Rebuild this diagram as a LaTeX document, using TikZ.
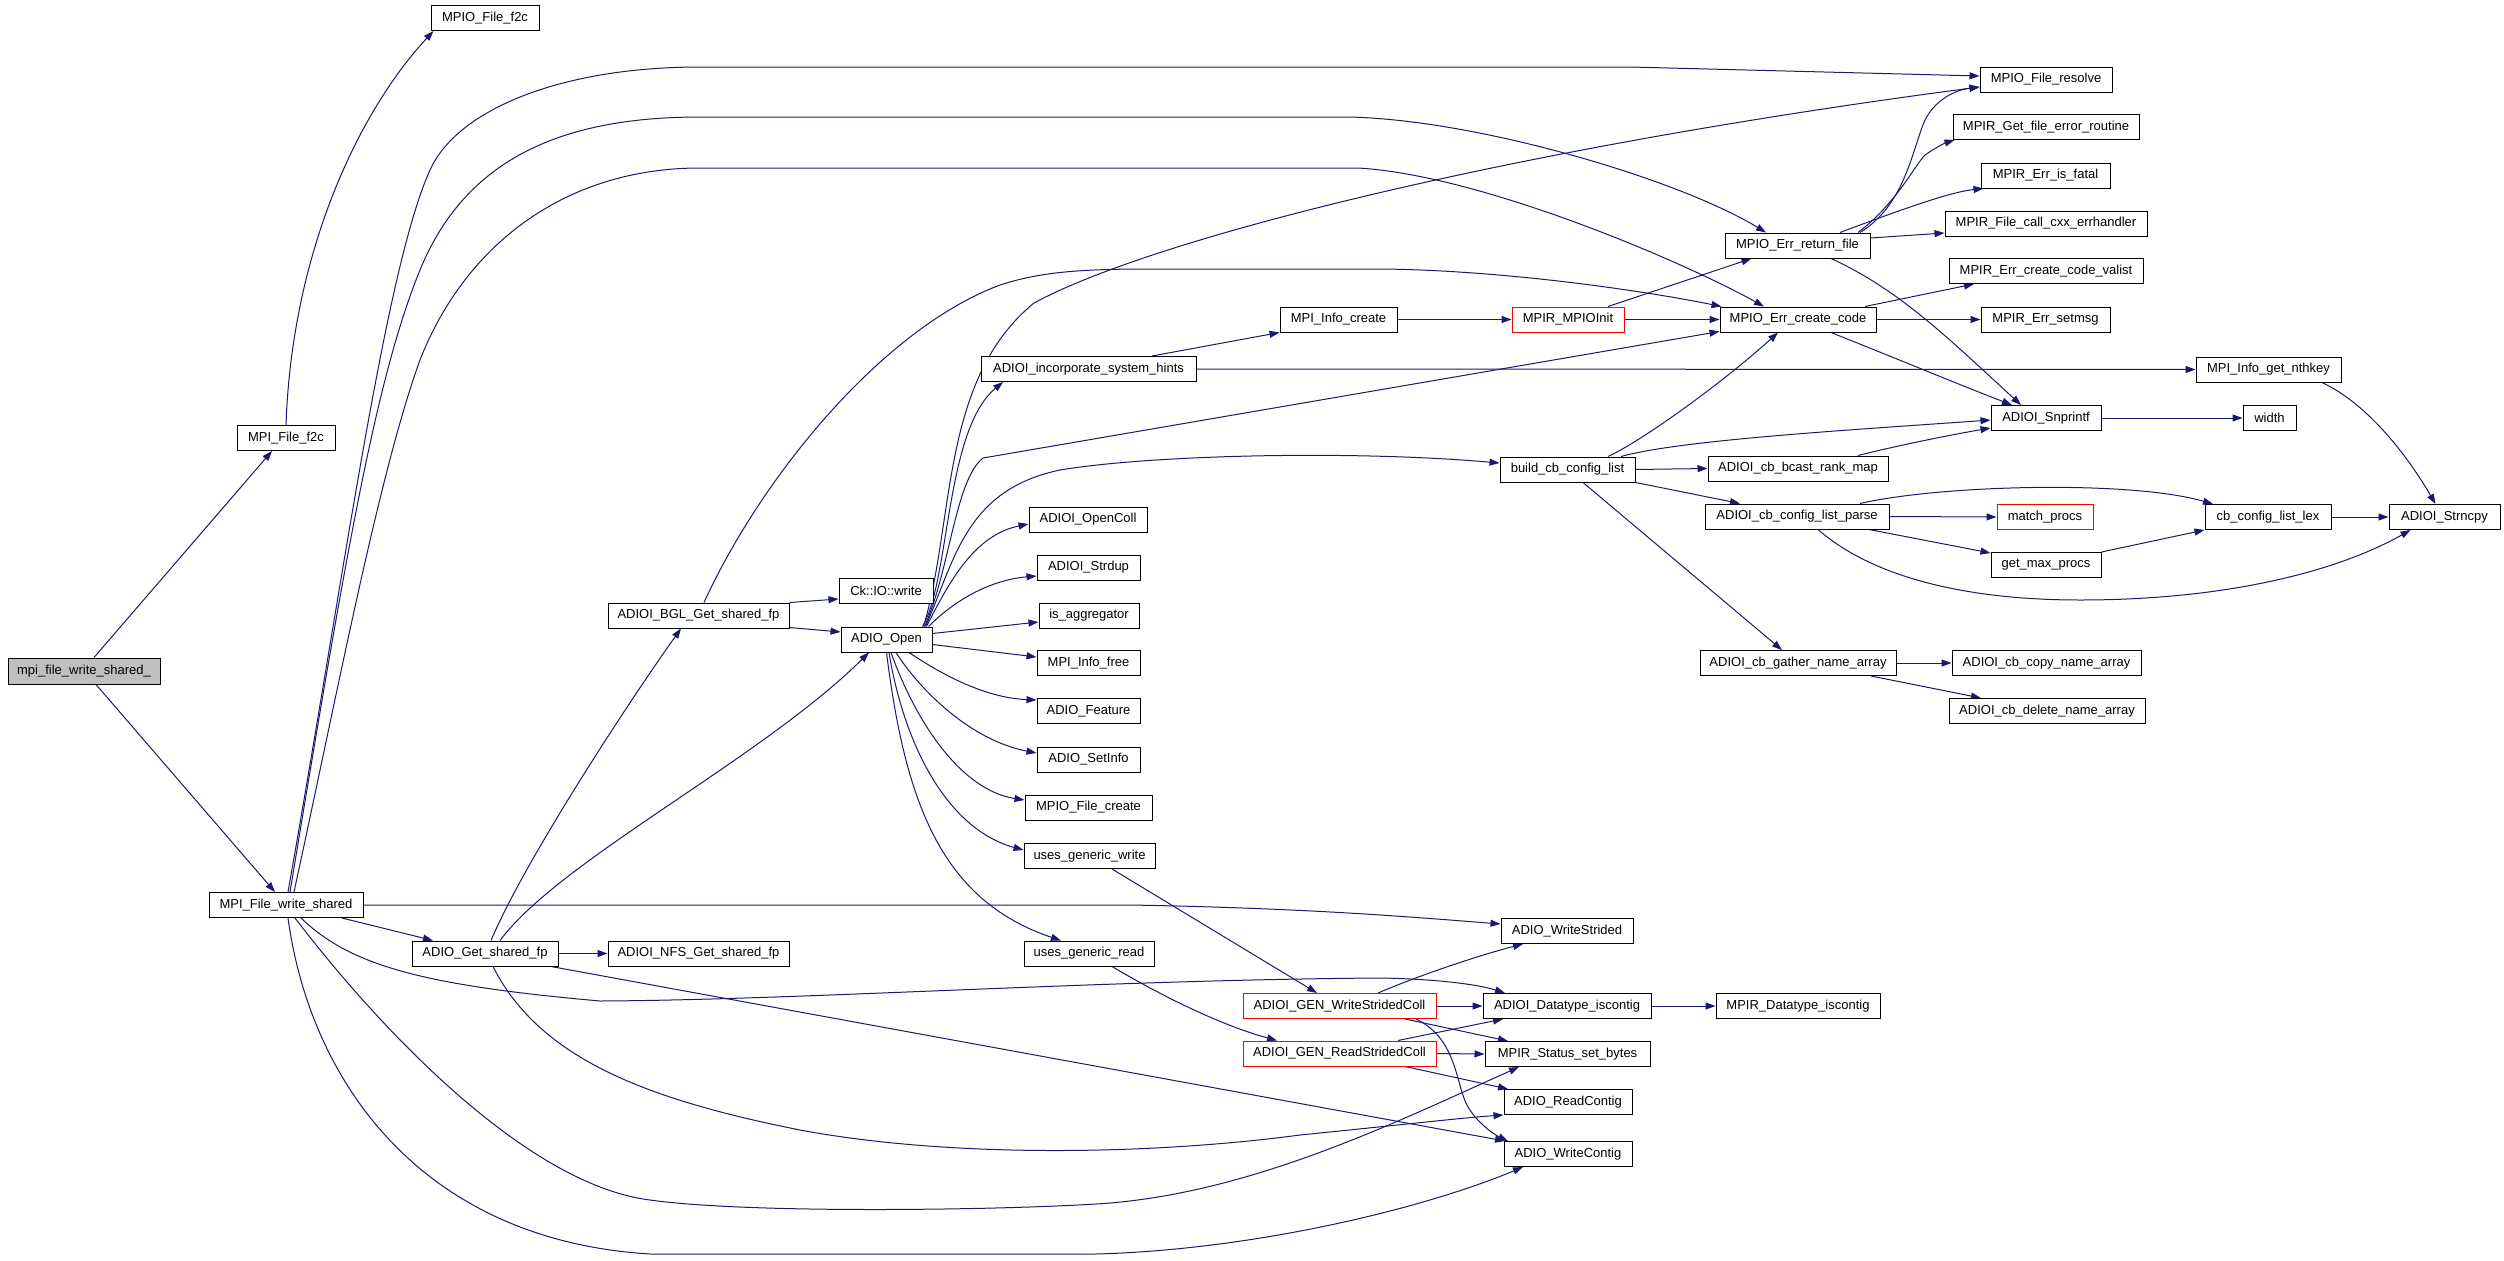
\documentclass[tikz,border=0pt]{standalone}
\usepackage{fontspec}
\setmainfont{Liberation Sans}
\usetikzlibrary{arrows.meta}
\definecolor{eb}{HTML}{191970}
\definecolor{rootgray}{HTML}{BFBFBF}
\pgfdeclarelayer{bg}
\pgfsetlayers{bg,main}
\begin{document}
\begin{tikzpicture}[x=1pt,y=-1pt,
  fn/.style={draw=black,line width=1pt,inner sep=0pt,minimum height=25pt,font=\fontsize{13}{15}\selectfont,fill=white},
  hot/.style={draw=red},
  call/.style={draw=eb,line width=1pt,-{Triangle[length=10pt,width=7pt]}}]
\useasboundingbox (0,0) rectangle (2504,1261);
% nodes
\node[fn,minimum width=152pt,minimum height=26pt,fill=rootgray] (root) at (84,671) {mpi\_file\_write\_shared\_};
\node[fn,minimum width=98pt] (f2c) at (286,438) {MPI\_File\_f2c};
\node[fn,minimum width=108pt] (of2c) at (485,18) {MPIO\_File\_f2c};
\node[fn,minimum width=154pt] (W) at (286,905) {MPI\_File\_write\_shared};
\node[fn,minimum width=146pt] (GS) at (485,953.5) {ADIO\_Get\_shared\_fp};
\node[fn,minimum width=181pt] (BGL) at (698.5,615.5) {ADIOI\_BGL\_Get\_shared\_fp};
\node[fn,minimum width=181pt] (NFS) at (698.5,953.5) {ADIOI\_NFS\_Get\_shared\_fp};
\node[fn,minimum width=94pt] (CK) at (886,591) {Ck::IO::write};
\node[fn,minimum width=91pt] (O) at (886.5,639.5) {ADIO\_Open};
\node[fn,minimum width=215pt] (H) at (1088.5,369) {ADIOI\_incorporate\_system\_hints};
\node[fn,minimum width=118pt] (OC) at (1088,519.5) {ADIOI\_OpenColl};
\node[fn,minimum width=103pt] (SD) at (1088.5,567.5) {ADIOI\_Strdup};
\node[fn,minimum width=100pt] (AG) at (1089,615.5) {is\_aggregator};
\node[fn,minimum width=103pt] (IF) at (1088.5,663) {MPI\_Info\_free};
\node[fn,minimum width=103pt] (FE) at (1088.5,711) {ADIO\_Feature};
\node[fn,minimum width=103pt] (SI) at (1088.5,759.5) {ADIO\_SetInfo};
\node[fn,minimum width=127pt] (FC) at (1088.5,807.5) {MPIO\_File\_create};
\node[fn,minimum width=131pt] (UW) at (1089.5,856) {uses\_generic\_write};
\node[fn,minimum width=130pt] (UR) at (1089,953.5) {uses\_generic\_read};
\node[fn,minimum width=117pt] (IC) at (1338.5,319.5) {MPI\_Info\_create};
\node[fn,hot,minimum width=193pt] (GW) at (1339.5,1006) {ADIOI\_GEN\_WriteStridedColl};
\node[fn,hot,minimum width=193pt] (GR) at (1339.5,1053.5) {ADIOI\_GEN\_ReadStridedColl};
\node[fn,hot,minimum width=112pt] (MI) at (1568,319.5) {MPIR\_MPIOInit};
\node[fn,minimum width=135pt] (BC) at (1567.5,469.5) {build\_cb\_config\_list};
\node[fn,minimum width=132pt] (WS) at (1567,931) {ADIO\_WriteStrided};
\node[fn,minimum width=168pt] (DI) at (1567,1006) {ADIOI\_Datatype\_iscontig};
\node[fn,minimum width=165pt] (SB) at (1567.5,1054) {MPIR\_Status\_set\_bytes};
\node[fn,minimum width=128pt] (RC) at (1568,1102) {ADIO\_ReadContig};
\node[fn,minimum width=128pt] (WC) at (1568,1154) {ADIO\_WriteContig};
\node[fn,minimum width=145pt] (E) at (1797.5,245.5) {MPIO\_Err\_return\_file};
\node[fn,minimum width=156pt] (C) at (1798,319.5) {MPIO\_Err\_create\_code};
\node[fn,minimum width=180pt] (bcast) at (1798,468.5) {ADIOI\_cb\_bcast\_rank\_map};
\node[fn,minimum width=184pt] (parse) at (1797,516.5) {ADIOI\_cb\_config\_list\_parse};
\node[fn,minimum width=196pt] (G) at (1798,663) {ADIOI\_cb\_gather\_name\_array};
\node[fn,minimum width=164pt] (MDI) at (1798,1006) {MPIR\_Datatype\_iscontig};
\node[fn,minimum width=132pt] (resolve) at (2046,79.5) {MPIO\_File\_resolve};
\node[fn,minimum width=186pt] (GFER) at (2046,127) {MPIR\_Get\_file\_error\_routine};
\node[fn,minimum width=129pt] (fatal) at (2045.5,175.5) {MPIR\_Err\_is\_fatal};
\node[fn,minimum width=202pt] (cxx) at (2046,223.5) {MPIR\_File\_call\_cxx\_errhandler};
\node[fn,minimum width=194pt] (valist) at (2046,271) {MPIR\_Err\_create\_code\_valist};
\node[fn,minimum width=129pt] (setmsg) at (2045.5,319.5) {MPIR\_Err\_setmsg};
\node[fn,minimum width=110pt] (snp) at (2046,418) {ADIOI\_Snprintf};
\node[fn,hot,minimum width=96pt] (match) at (2045,517) {match\_procs};
\node[fn,minimum width=110pt] (gmp) at (2046,565) {get\_max\_procs};
\node[fn,minimum width=189pt] (copy) at (2046.5,663) {ADIOI\_cb\_copy\_name\_array};
\node[fn,minimum width=196pt] (del) at (2047,711) {ADIOI\_cb\_delete\_name\_array};
\node[fn,minimum width=145pt] (nth) at (2268.5,369.5) {MPI\_Info\_get\_nthkey};
\node[fn,minimum width=53pt] (wid) at (2269.5,418) {width};
\node[fn,minimum width=126pt] (lex) at (2268,517) {cb\_config\_list\_lex};
\node[fn,minimum width=111pt] (sncpy) at (2444.5,517) {ADIOI\_Strncpy};
% edges
\begin{pgfonlayer}{bg}
\fill[white] (0,0) rectangle (2504,1261);
\draw[call] ([xshift=10pt]root.north) -- ([xshift=-14pt]f2c.south);
\draw[call] ([xshift=12pt]root.south) -- ([xshift=-11pt]W.north);
\draw[call] (f2c.north) .. controls (292,250) and (360,110) .. ([xshift=3pt]of2c.south west);
\draw[call] ([xshift=2pt]W.north) .. controls (345,570) and (385,270) .. (430,170) .. controls (457,110) and (560,67) .. (700,67) -- (1630,67) -- ([yshift=3.5pt]resolve.west);
\draw[call] ([xshift=4pt]W.north) .. controls (345,560) and (375,380) .. (420,270) .. controls (465,160) and (560,117) .. (700,117) -- (1349,117) .. controls (1480,120) and (1680,180) .. ([xshift=-31.5pt]E.north);
\draw[call] ([xshift=8pt]W.north) .. controls (340,680) and (380,470) .. (420,360) .. controls (465,245) and (565,168) .. (700,168) -- (1358,168) .. controls (1480,175) and (1680,260) .. ([xshift=-34pt]C.north);
\draw[call] (W.east) -- (1130,905) .. controls (1300,908) and (1400,916) .. ([yshift=7pt]WS.west);
\draw[call] ([xshift=56pt]W.south) -- ([xshift=-52pt]GS.north);
\draw[call] ([xshift=15pt]W.south) .. controls (350,965) and (420,985) .. (600,1001) .. controls (800,1000) and (1100,980) .. (1380,978) .. controls (1440,979) and (1480,985) .. ([xshift=-62pt]DI.north);
\draw[call] ([xshift=9pt]W.south) .. controls (386,1037) and (530,1185) .. (650,1200) .. controls (750,1214) and (1000,1210) .. (1096,1204) .. controls (1250,1195) and (1400,1120) .. ([xshift=-48.5pt]SB.south);
\draw[call] ([xshift=2pt]W.south) .. controls (310,1080) and (420,1240) .. (650,1254) -- (1096,1254) .. controls (1250,1250) and (1420,1210) .. ([xshift=-45pt]WC.south);
\draw[call] ([xshift=6pt]GS.north) .. controls (525,860) and (630,700) .. ([xshift=-17.5pt]BGL.south);
\draw[call] ([xshift=15pt]GS.north) .. controls (560,860) and (760,760) .. ([xshift=-17.5pt]O.south);
\draw[call] (GS.east) -- (NFS.west);
\draw[call] ([xshift=8pt]GS.south) .. controls (540,1060) and (650,1100) .. (800,1130) .. controls (950,1158) and (1150,1155) .. (1300,1135) .. controls (1400,1125) and (1460,1118) .. (RC.south west);
\draw[call] ([xshift=66pt]GS.south) -- ([xshift=-63pt]WC.north);
\draw[call] (BGL.north east) -- ([yshift=-8pt]CK.west);
\draw[call] ([yshift=1pt]BGL.south east) -- ([yshift=7.5pt]O.west);
\draw[call] ([xshift=5.5pt]BGL.north) .. controls (760,480) and (880,330) .. (1000,285) .. controls (1040,272) and (1080,269) .. (1150,269) -- (1380,269) .. controls (1500,270) and (1640,290) .. ([xshift=2pt]C.north west);
\draw[call] ([xshift=40pt]O.north) .. controls (950,580) and (975,535) .. ([yshift=-4.5pt]OC.west);
\draw[call] ([xshift=42pt]O.north) .. controls (955,600) and (990,580) .. ([yshift=-8.5pt]SD.west);
\draw[call] ([yshift=6pt]O.east) -- ([yshift=-6.5pt]AG.west);
\draw[call] ([yshift=-5pt]O.east) -- ([yshift=6pt]IF.west);
\draw[call] ([xshift=22.5pt]O.south) .. controls (950,680) and (990,698) .. ([yshift=11pt]FE.west);
\draw[call] ([xshift=9.5pt]O.south) .. controls (920,690) and (970,740) .. ([yshift=6.5pt]SI.west);
\draw[call] ([xshift=4.5pt]O.south) .. controls (915,720) and (960,790) .. ([yshift=7.5pt]FC.west);
\draw[call] ([xshift=2.5pt]O.south) .. controls (905,750) and (950,830) .. ([yshift=6pt]UW.west);
\draw[call] (O.south) .. controls (905,800) and (940,900) .. ([xshift=-28pt]UR.north);
\draw[call] ([xshift=36pt]O.north) .. controls (950,580) and (945,430) .. ([xshift=-85.5pt]H.south);
\draw[call] ([xshift=37pt]O.north) .. controls (955,520) and (940,380) .. (1034,303) .. controls (1150,240) and (1500,150) .. ([yshift=-7.5pt]resolve.west);
\draw[call] ([xshift=38pt]O.north) .. controls (950,570) and (955,480) .. (983,458) -- ([yshift=-12pt]C.west);
\draw[call] ([xshift=39pt]O.north) .. controls (955,560) and (965,490) .. (1060,470) .. controls (1150,455) and (1350,450) .. ([yshift=6.5pt]BC.west);
\draw[call] ([xshift=63.5pt]H.north) -- (IC.south west);
\draw[call] (H.east) -- (nth.west);
\draw[call] (IC.east) -- (MI.west);
\draw[call] (MI.east) -- (C.west);
\draw[call] ([xshift=40pt]MI.north) -- ([xshift=-46pt]E.south);
\draw[call] ([xshift=62.5pt]E.north) .. controls (1905,205) and (1912,150) .. (1925,120) .. controls (1935,100) and (1955,90) .. ([yshift=-7.5pt]resolve.west);
\draw[call] ([xshift=60.5pt]E.north) .. controls (1895,205) and (1915,165) .. (1925,155) .. controls (1935,148) and (1945,143) .. ([xshift=2pt]GFER.south west);
\draw[call] ([xshift=42.5pt]E.north) .. controls (1900,210) and (1950,192) .. ([xshift=3pt]fatal.south west);
\draw[call] ([yshift=7.5pt]E.east) -- ([yshift=-9.5pt]cxx.west);
\draw[call] ([xshift=33.5pt]E.south) .. controls (1900,290) and (1950,340) .. ([xshift=-25pt]snp.north);
\draw[call] ([xshift=67pt]C.north) -- ([xshift=-72pt]valist.south);
\draw[call] (C.east) -- (setmsg.west);
\draw[call] ([xshift=33pt]C.south) .. controls (1900,360) and (1960,385) .. ([xshift=-34pt]snp.north);
\draw[call] ([xshift=53.5pt]nth.south) .. controls (2370,405) and (2410,460) .. ([xshift=-9pt]sncpy.north);
\draw[call] (snp.east) -- (wid.west);
\draw[call] ([xshift=40.5pt]BC.north) .. controls (1640,442) and (1720,385) .. ([xshift=-20pt]C.south);
\draw[call] ([xshift=53.5pt]BC.north) .. controls (1680,440) and (1850,430) .. ([yshift=-2pt]snp.west);
\draw[call] (BC.east) -- (bcast.west);
\draw[call] (BC.south east) -- ([xshift=-57pt]parse.north);
\draw[call] ([xshift=15.5pt]BC.south) -- ([xshift=-16pt]G.north);
\draw[call] ([xshift=60pt]bcast.north) .. controls (1900,445) and (1950,435) .. ([yshift=-10pt]snp.west);
\draw[call] ([xshift=63pt]parse.north) .. controls (1940,485) and (2130,480) .. ([xshift=-55pt]lex.north);
\draw[call] (parse.east) -- (match.west);
\draw[call] ([xshift=72pt]parse.south) -- ([yshift=-1pt]gmp.north west);
\draw[call] ([xshift=21pt]parse.south) .. controls (1870,575) and (1960,600) .. (2080,600) .. controls (2230,600) and (2340,570) .. ([xshift=-34pt]sncpy.south);
\draw[call] (gmp.north east) -- (lex.south west);
\draw[call] (lex.east) -- (sncpy.west);
\draw[call] (G.east) -- (copy.west);
\draw[call] ([xshift=73pt]G.south) -- ([xshift=-66pt]del.north);
\draw[call] ([xshift=22.5pt]UW.south) -- ([xshift=-22.5pt]GW.north);
\draw[call] ([xshift=23pt]UR.south) .. controls (1160,995) and (1220,1025) .. ([xshift=-62.5pt]GR.north);
\draw[call] ([xshift=38.5pt]GW.north) .. controls (1420,975) and (1480,955) .. ([xshift=-44pt]WS.south);
\draw[call] (GW.east) -- (DI.west);
\draw[call] ([xshift=65.5pt]GW.south) -- ([xshift=-59.5pt]SB.north);
\draw[call] ([xshift=76.5pt]GW.south) .. controls (1460,1040) and (1455,1090) .. (1470,1110) .. controls (1480,1125) and (1495,1135) .. ([xshift=-60pt]WC.north);
\draw[call] ([xshift=58.5pt]GR.north) -- ([xshift=-64pt]DI.south);
\draw[call] (GR.east) -- (SB.west);
\draw[call] ([xshift=65.5pt]GR.south) -- ([xshift=-60pt]RC.north);
\draw[call] (DI.east) -- (MDI.west);
\end{pgfonlayer}
\end{tikzpicture}
\end{document}
